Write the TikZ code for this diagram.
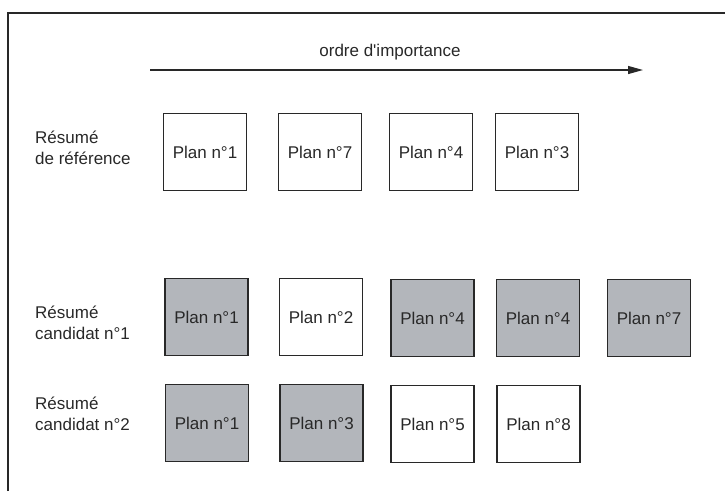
\documentclass[tikz,border=0pt]{standalone}
\usepackage{fontspec}
\setmainfont{Liberation Sans}[Ligatures=TeXOff]
\usetikzlibrary{arrows.meta}
\definecolor{ink}{RGB}{40,40,40}
\definecolor{boxgray}{RGB}{179,182,187}
\begin{document}
\begin{tikzpicture}[x=1pt,y=-1pt,
  plan/.style={draw=ink,line width=1.3pt,minimum width=83pt,minimum height=77pt,inner sep=0pt,font=\fontsize{17}{20}\selectfont,text=ink},
  hit/.style={plan,fill=boxgray},
  rowlabel/.style={anchor=west,align=left,inner sep=0pt,font=\fontsize{17}{20.5}\selectfont,text=ink},
  frame/.style={draw=ink,line width=1.3pt}]
\useasboundingbox (0,0) rectangle (725,491);
\coordinate (fb) at (8,491);
\coordinate (fc) at (8,13);
\coordinate (fr) at (725,13);
\draw[frame] (fb) -- (fc) -- (fr);
\node[font=\fontsize{17}{20}\selectfont,text=ink] (title) at (390,52) {ordre d'importance};
\coordinate (as) at (150,70);
\coordinate (ae) at (643,70);
\draw[draw=ink,line width=1.2pt,-{Triangle[length=15pt,width=8pt]}] (as) -- (ae);
% row 1
\node[rowlabel] (l1) at (35,148) {Résumé\\de référence};
\node[plan] (r1a) at (205,152) {Plan n°1};
\node[plan] (r1b) at (320,152) {Plan n°7};
\node[plan] (r1c) at (431,152) {Plan n°4};
\node[plan] (r1d) at (537,152) {Plan n°3};
% row 2
\node[rowlabel] (l2) at (35,323) {Résumé\\candidat n°1};
\node[hit] (r2a) at (206.5,317) {Plan n°1};
\node[plan] (r2b) at (321,317) {Plan n°2};
\node[hit] (r2c) at (432.5,318) {Plan n°4};
\node[hit] (r2d) at (538,318) {Plan n°4};
\node[hit] (r2e) at (649,318) {Plan n°7};
% row 3
\node[rowlabel] (l3) at (35,414) {Résumé\\candidat n°2};
\node[hit] (r3a) at (207,423) {Plan n°1};
\node[hit] (r3b) at (321.5,423) {Plan n°3};
\node[plan] (r3c) at (432.5,424) {Plan n°5};
\node[plan] (r3d) at (538.5,424) {Plan n°8};
\end{tikzpicture}
\end{document}
